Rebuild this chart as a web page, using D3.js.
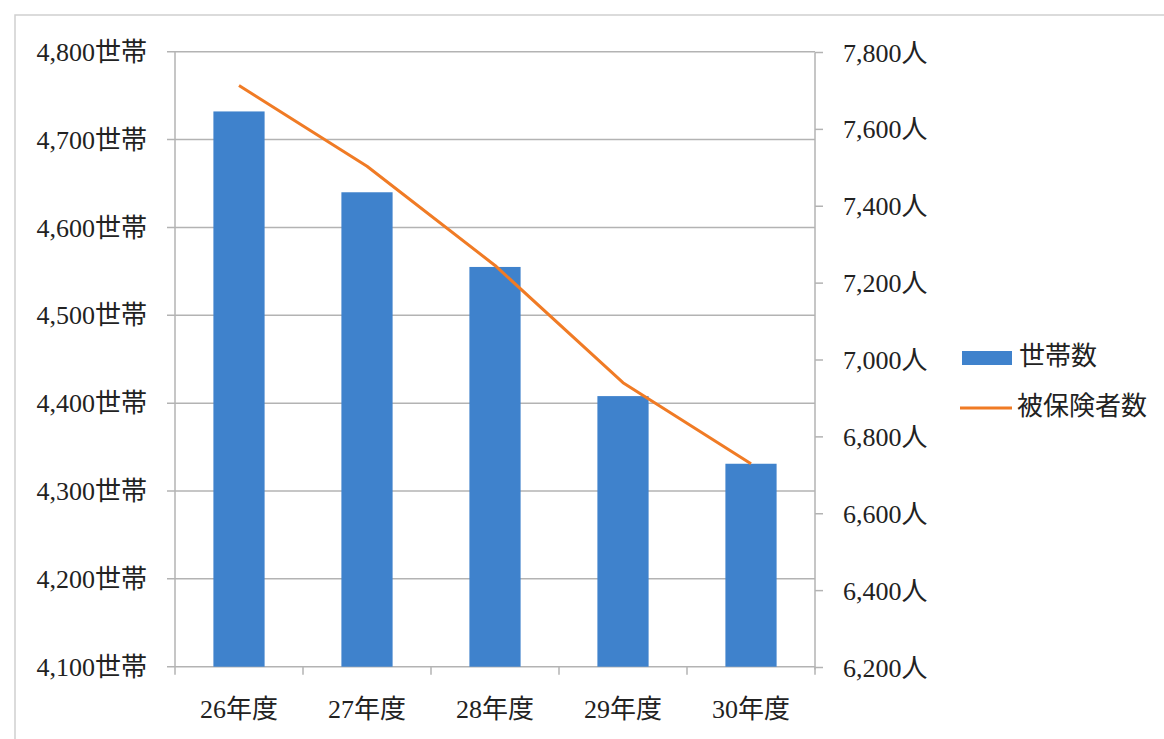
<!DOCTYPE html>
<html>
<head>
<meta charset="utf-8">
<script src="https://cdn.jsdelivr.net/npm/d3@7"></script>
<style>
  body { margin: 0; background: #fff; }
  text { font-family: "Liberation Serif", "Noto Sans CJK JP", serif; fill: #222; }
</style>
</head>
<body>
<svg id="chart" width="1164" height="739"></svg>
<script>
// data
let years = ["26年度", "27年度", "28年度", "29年度", "30年度"];
let households = [4732, 4640, 4555, 4408, 4331];
let insured = [7714, 7504, 7246, 6941, 6730];
let leftTicks = [4100, 4200, 4300, 4400, 4500, 4600, 4700, 4800];
let rightTicks = [6200, 6400, 6600, 6800, 7000, 7200, 7400, 7600, 7800];
let legendNames = ["世帯数", "被保険者数"];

window.onload = function() {
    var svg = d3.select("#chart");
    let barColor = "#3f82cc";
    let lineColor = "#f07b25";
    let gridColor = "#b3b3b3";
    let fmt = d3.format(",");
    let fs = "26px";

    // outer frame
    svg.append("rect")
        .attr("x", 15).attr("y", 15)
        .attr("width", 1150).attr("height", 740)
        .style("fill", "none")
        .style("stroke", "#cfcfcf")
        .style("stroke-width", 1.5);

    var x = d3.scaleBand()
        .domain(years)
        .range([175, 815])
        .paddingInner(0.6)
        .paddingOuter(0.3);

    var yL = d3.scaleLinear().domain([4100, 4800]).range([666.7, 51.7]);
    var yR = d3.scaleLinear().domain([6200, 7800]).range([667.5, 52.5]);

    // gridlines + left ticks
    var g = svg.append("g");
    leftTicks.forEach(function(t) {
        g.append("line")
            .attr("x1", 167).attr("x2", 815)
            .attr("y1", yL(t)).attr("y2", yL(t))
            .style("stroke", gridColor)
            .style("stroke-width", 1.5);
        g.append("text")
            .attr("x", 147)
            .attr("y", yL(t))
            .attr("dy", "0.35em")
            .attr("text-anchor", "end")
            .style("font-size", fs)
            .text(fmt(t) + "世帯");
    });

    // left axis line
    g.append("line")
        .attr("x1", 175).attr("x2", 175)
        .attr("y1", yL(4800)).attr("y2", yL(4100))
        .style("stroke", gridColor).style("stroke-width", 1.5);

    // right axis
    g.append("line")
        .attr("x1", 815).attr("x2", 815)
        .attr("y1", yR(7800)).attr("y2", yR(6200) + 2)
        .style("stroke", gridColor).style("stroke-width", 1.5);
    rightTicks.forEach(function(t) {
        g.append("line")
            .attr("x1", 815).attr("x2", 823)
            .attr("y1", yR(t)).attr("y2", yR(t))
            .style("stroke", gridColor).style("stroke-width", 1.5);
        g.append("text")
            .attr("x", 843)
            .attr("y", yR(t))
            .attr("dy", "0.35em")
            .style("font-size", fs)
            .text(fmt(t) + "人");
    });

    // x axis tick marks
    let step = x.step();
    d3.range(years.length + 1).forEach(function(i) {
        let xx = 175 + i * step;
        g.append("line")
            .attr("x1", xx).attr("x2", xx)
            .attr("y1", yL(4100)).attr("y2", yL(4100) + 8)
            .style("stroke", gridColor).style("stroke-width", 1.5);
    });

    // bars
    svg.append("g").selectAll("rect")
        .data(households)
        .join("rect")
        .attr("x", (d, i) => x(years[i]))
        .attr("width", x.bandwidth())
        .attr("y", d => yL(d))
        .attr("height", d => yL(4100) - yL(d))
        .style("fill", barColor);

    // category labels
    svg.append("g").selectAll("text")
        .data(years)
        .join("text")
        .attr("x", d => x(d) + x.bandwidth() / 2)
        .attr("y", 718)
        .attr("text-anchor", "middle")
        .style("font-size", fs)
        .text(d => d);

    // line series
    var line = d3.line()
        .x((d, i) => x(years[i]) + x.bandwidth() / 2)
        .y(d => yR(d));
    svg.append("path")
        .datum(insured)
        .attr("d", line)
        .style("fill", "none")
        .style("stroke", lineColor)
        .style("stroke-width", 3)
        .style("stroke-linejoin", "round");

    // legend
    var lg = svg.append("g");
    lg.append("rect")
        .attr("x", 962).attr("y", 351)
        .attr("width", 50).attr("height", 14)
        .style("fill", barColor);
    lg.append("text")
        .attr("x", 1019).attr("y", 356)
        .attr("dy", "0.35em")
        .style("font-size", fs)
        .text(legendNames[0]);
    lg.append("line")
        .attr("x1", 960).attr("x2", 1012)
        .attr("y1", 408).attr("y2", 408)
        .style("stroke", lineColor).style("stroke-width", 3);
    lg.append("text")
        .attr("x", 1017).attr("y", 406)
        .attr("dy", "0.35em")
        .style("font-size", fs)
        .text(legendNames[1]);
};
</script>
</body>
</html>
